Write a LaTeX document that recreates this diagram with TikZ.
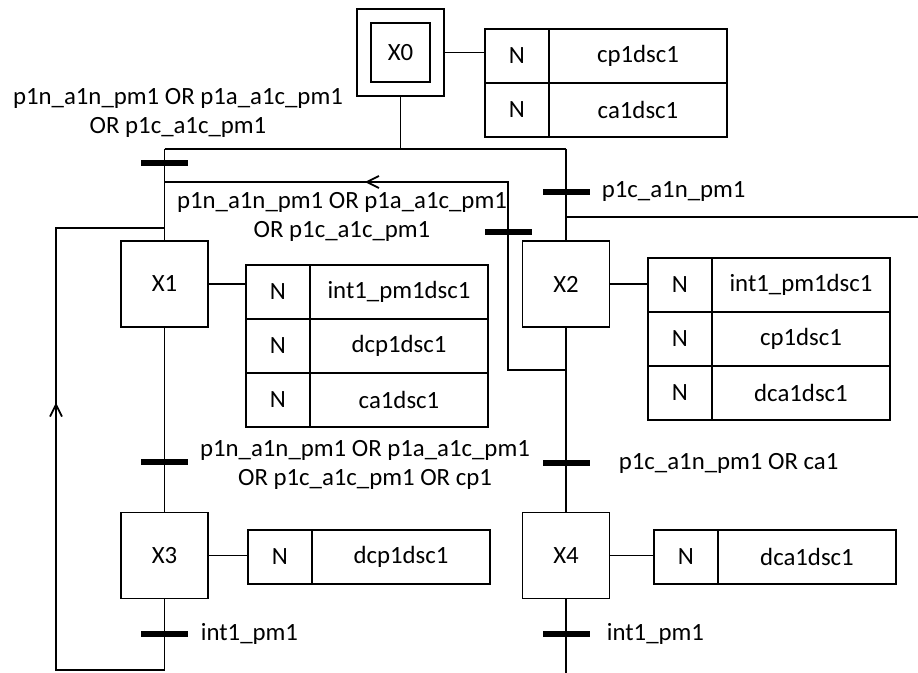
\documentclass[tikz,border=0pt]{standalone}
\usepackage{fontspec}
\setmainfont{Carlito}
\usetikzlibrary{arrows.meta,decorations.markings}

\begin{document}
\begin{tikzpicture}[
    x=0.5pt, y=-0.5pt, line width=0.9pt,
    font=\fontsize{12.4}{14.5}\selectfont,
    stepbox/.style={rectangle, draw, minimum width=43.5pt, minimum height=43pt, inner sep=0pt},
    initbox/.style={rectangle, draw, minimum size=29.5pt, inner sep=0pt},
    ncell/.style={rectangle, draw, minimum width=32pt, minimum height=27pt, inner sep=0pt, outer sep=0pt},
    acell/.style={rectangle, draw, minimum width=89pt, minimum height=27pt, inner sep=0pt, outer sep=0pt},
    trans/.style={rectangle, fill=black, minimum width=23.5pt, minimum height=2.8pt, inner sep=0pt},
    lbl/.style={align=center, inner sep=0pt},
    back_arr/.style={postaction={decorate, decoration={markings,
        mark=at position #1 with {\arrow{Straight Barb[length=6pt, width=6pt]}}}}}
]
    \useasboundingbox (0,0) rectangle (918,673);

    % Steps, placed at absolute coordinates
    \node[stepbox, minimum size=43.5pt] (X0) at (400.5,52.5) {};
    \node[initbox] (X0in) at (X0.center) {X0};
    \node[stepbox] (X1) at (164.5,284) {X1};
    \node[stepbox] (X2) at (566,284) {X2};
    \node[stepbox] (X3) at (164.5,555.5) {X3};
    \node[stepbox] (X4) at (566,555.5) {X4};

    % Actions
    \node[ncell] (X0n1) at (517,56) {N};
    \node[acell, anchor=west] (X0a1) at (X0n1.east) {cp1dsc1};
    \node[ncell] (X0n2) at (517,110) {N};
    \node[acell, anchor=west] (X0a2) at (X0n2.east) {ca1dsc1};

    \node[ncell] (X1n1) at (278,292) {N};
    \node[acell, anchor=west] (X1a1) at (X1n1.east) {int1\_pm1dsc1};
    \node[ncell] (X1n2) at (278,346) {N};
    \node[acell, anchor=west] (X1a2) at (X1n2.east) {dcp1dsc1};
    \node[ncell] (X1n3) at (278,400) {N};
    \node[acell, anchor=west] (X1a3) at (X1n3.east) {ca1dsc1};

    \node[ncell] (X2n1) at (680,285) {N};
    \node[acell, anchor=west] (X2a1) at (X2n1.east) {int1\_pm1dsc1};
    \node[ncell] (X2n2) at (680,339) {N};
    \node[acell, anchor=west] (X2a2) at (X2n2.east) {cp1dsc1};
    \node[ncell] (X2n3) at (680,393) {N};
    \node[acell, anchor=west] (X2a3) at (X2n3.east) {dca1dsc1};

    \node[ncell] (X3n1) at (280,557) {N};
    \node[acell, anchor=west] (X3a1) at (X3n1.east) {dcp1dsc1};

    \node[ncell] (X4n1) at (686,557) {N};
    \node[acell, anchor=west] (X4a1) at (X4n1.east) {dca1dsc1};

    \draw (X0.east) -- (X0.east -| X0n1.west);
    \draw (X1.east) -- (X1.east -| X1n1.west);
    \draw (X2.east) -- (X2.east -| X2n1.west);
    \draw (X3.east) -- (X3.east -| X3n1.west);
    \draw (X4.east) -- (X4.east -| X4n1.west);

    % Junction points
    \coordinate (d0) at (164.5,149);
    \coordinate (d1) at (566,149);
    \coordinate (j1) at (164.5,182);
    \coordinate (k1) at (508,182);
    \coordinate (b2) at (566,370);
    \coordinate (o1) at (566,217);
    \coordinate (o2) at (918,217);
    \coordinate (j0) at (164.5,228);
    \coordinate (l1) at (56,228);
    \coordinate (l0) at (56,670);
    \coordinate (b3) at (164.5,670);
    \coordinate (e4) at (566,673);

    % Links
    \draw (X0.south) -- (X0.south |- d0);
    \draw (d0) -- (d1);
    \draw (d0) -- (X1.north);
    \draw (d1) -- (X2.north);
    \draw (o1) -- (o2);
    \draw[back_arr=0.66] (b2) -| (k1) -- (j1);
    \draw (X1.south) -- (X3.north);
    \draw (X2.south) -- (X4.north);
    \draw[back_arr=0.612] (X3.south) -- (b3) -- (l0) -- (l1) -- (j0);
    \draw (X4.south) -- (e4);

    % Transitions
    \node[trans] (t0) at (164.5,163) {};
    \node[trans] (t1) at (566,192) {};
    \node[trans] (t2) at (508,232) {};
    \node[trans] (t3) at (164.5,462) {};
    \node[trans] (t4) at (566,463) {};
    \node[trans] (t5) at (164.5,634) {};
    \node[trans] (t6) at (566,634) {};

    % Receptivities
    \node[lbl] (c0) at (178,113) {p1n\_a1n\_pm1 OR p1a\_a1c\_pm1\\OR p1c\_a1c\_pm1};
    \node[lbl, anchor=west] (c1) at (601,192) {p1c\_a1n\_pm1};
    \node[lbl] (c2) at (342,217) {p1n\_a1n\_pm1 OR p1a\_a1c\_pm1\\OR p1c\_a1c\_pm1};
    \node[lbl] (c3) at (365,465) {p1n\_a1n\_pm1 OR p1a\_a1c\_pm1\\OR p1c\_a1c\_pm1 OR cp1};
    \node[lbl, anchor=west] (c4) at (618,463) {p1c\_a1n\_pm1 OR ca1};
    \node[lbl, anchor=west] (c5) at (200,634) {int1\_pm1};
    \node[lbl, anchor=west] (c6) at (606,634) {int1\_pm1};
\end{tikzpicture}
\end{document}
